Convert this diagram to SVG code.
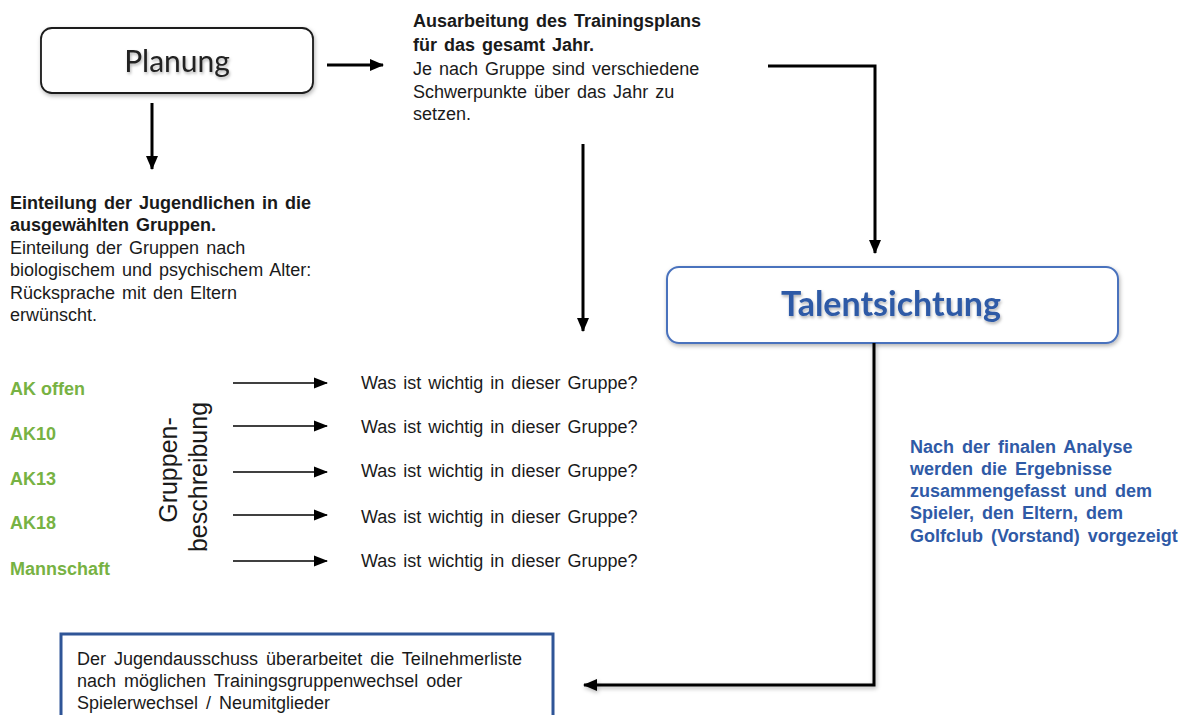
<svg xmlns="http://www.w3.org/2000/svg" width="1191" height="715" viewBox="0 0 1191 715">
<defs>
<marker id="ah" markerUnits="userSpaceOnUse" markerWidth="14" markerHeight="14" viewBox="0 0 14 14" refX="13" refY="7" orient="auto"><path d="M0,1 L14,7 L0,13 z" fill="#000"/></marker>
<marker id="ahs" markerUnits="userSpaceOnUse" markerWidth="14" markerHeight="14" viewBox="0 0 14 14" refX="13" refY="7" orient="auto"><path d="M0,1.5 L14,7 L0,12.5 z" fill="#000"/></marker>
<filter id="sh" x="-10%" y="-20%" width="120%" height="150%"><feDropShadow dx="1" dy="2" stdDeviation="2" flood-color="#000" flood-opacity="0.3"/></filter>
<filter id="tsh" x="-10%" y="-30%" width="120%" height="160%"><feDropShadow dx="1" dy="2" stdDeviation="1.5" flood-color="#000" flood-opacity="0.3"/></filter>
</defs>
<style>
.t{font-family:"Liberation Sans",Arial,sans-serif;font-size:18px;word-spacing:2px;fill:#1a1a1a}
.b{font-weight:bold}
.w{word-spacing:3px}
.g{font-family:"Liberation Sans",Arial,sans-serif;font-size:18px;font-weight:bold;fill:#77b243}
.bl{font-family:"Liberation Sans",Arial,sans-serif;font-size:18px;word-spacing:3px;font-weight:bold;fill:#2f5aa6}
.thick{stroke:#000;stroke-width:3;fill:none}
.thin{stroke:#000;stroke-width:1.6;fill:none}
</style>
<rect width="1191" height="715" fill="#fff"/>

<g id="planung">
<rect x="41" y="28" width="272" height="65" rx="11" fill="#fff" stroke="#1a1a1a" stroke-width="1.8" filter="url(#sh)"/>
<text x="177" y="72" text-anchor="middle" font-family="Lato,'Open Sans',sans-serif" font-size="30" fill="#222" filter="url(#tsh)">Planung</text>
</g>

<g id="ausarbeitung">
<text class="t b" x="413" y="27">Ausarbeitung des Trainingsplans</text>
<text class="t b" x="413" y="51">für das gesamt Jahr.</text>
<text class="t" x="413" y="75">Je nach Gruppe sind verschiedene</text>
<text class="t" x="413" y="98">Schwerpunkte über das Jahr zu</text>
<text class="t" x="413" y="120">setzen.</text>
</g>

<g id="einteilung">
<text class="t b" x="10" y="209">Einteilung der Jugendlichen in die</text>
<text class="t b" x="10" y="231">ausgewählten Gruppen.</text>
<text class="t" x="10" y="254">Einteilung der Gruppen nach</text>
<text class="t" x="10" y="276">biologischem und psychischem Alter:</text>
<text class="t" x="10" y="299">Rücksprache mit den Eltern</text>
<text class="t" x="10" y="321">erwünscht.</text>
</g>

<g id="talentsichtung">
<rect x="667" y="267" width="451" height="76" rx="12" fill="#fff" stroke="#4a72bd" stroke-width="2" filter="url(#sh)"/>
<text x="891" y="316" text-anchor="middle" font-family="Lato,'Open Sans',sans-serif" font-weight="bold" font-size="34" fill="#2f5aa6" filter="url(#tsh)">Talentsichtung</text>
</g>

<g id="gruppen">
<text class="g" x="10" y="395">AK offen</text>
<text class="g" x="10" y="440">AK10</text>
<text class="g" x="10" y="485">AK13</text>
<text class="g" x="10" y="529">AK18</text>
<text class="g" x="10" y="575">Mannschaft</text>
</g>

<g id="gruppenbeschreibung" font-family="'Liberation Sans',Arial,sans-serif" font-size="25" fill="#1a1a1a" text-anchor="middle">
<text transform="translate(177,470) rotate(-90)">Gruppen-</text>
<text transform="translate(207,477) rotate(-90)">beschreibung</text>
</g>

<g id="fragen">
<text class="t" x="361" y="389">Was ist wichtig in dieser Gruppe?</text>
<text class="t" x="361" y="433">Was ist wichtig in dieser Gruppe?</text>
<text class="t" x="361" y="477">Was ist wichtig in dieser Gruppe?</text>
<text class="t" x="361" y="523">Was ist wichtig in dieser Gruppe?</text>
<text class="t" x="361" y="567">Was ist wichtig in dieser Gruppe?</text>
</g>

<g id="ergebnis">
<text class="bl" x="910" y="453">Nach der finalen Analyse</text>
<text class="bl" x="910" y="475">werden die Ergebnisse</text>
<text class="bl" x="910" y="497">zusammengefasst und dem</text>
<text class="bl" x="910" y="519">Spieler, den Eltern, dem</text>
<text class="bl" x="910" y="542">Golfclub (Vorstand) vorgezeigt</text>
</g>

<g id="jugendausschuss">
<rect x="61" y="634" width="492" height="100" fill="#fff" stroke="#2f5597" stroke-width="3"/>
<text class="t w" x="77" y="665">Der Jugendausschuss überarbeitet die Teilnehmerliste</text>
<text class="t w" x="77" y="687">nach möglichen Trainingsgruppenwechsel oder</text>
<text class="t w" x="77" y="709">Spielerwechsel / Neumitglieder</text>
</g>

<g id="connectors">
<line class="thick" x1="327" y1="65" x2="383" y2="65" marker-end="url(#ah)"/>
<line class="thick" x1="152" y1="103" x2="152" y2="169" marker-end="url(#ah)"/>
<path class="thick" d="M768,66 H875 V253" marker-end="url(#ah)"/>
<line class="thick" x1="583" y1="144" x2="583" y2="331" marker-end="url(#ah)"/>
<path class="thick" d="M874,343 V685 H584" marker-end="url(#ah)" filter="url(#sh)"/>
<line class="thin" x1="233" y1="383" x2="327" y2="383" marker-end="url(#ahs)"/>
<line class="thin" x1="233" y1="426" x2="327" y2="426" marker-end="url(#ahs)"/>
<line class="thin" x1="233" y1="472" x2="327" y2="472" marker-end="url(#ahs)"/>
<line class="thin" x1="233" y1="515" x2="327" y2="515" marker-end="url(#ahs)"/>
<line class="thin" x1="233" y1="561" x2="327" y2="561" marker-end="url(#ahs)"/>
</g>
</svg>
